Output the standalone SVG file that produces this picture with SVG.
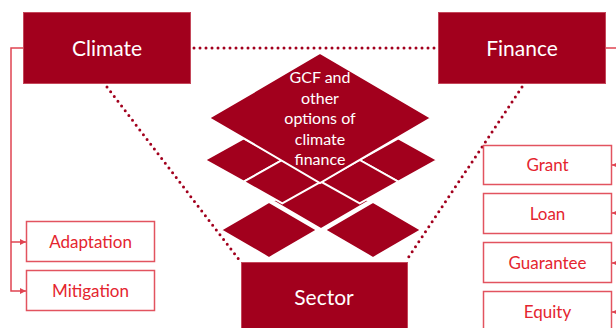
<svg xmlns="http://www.w3.org/2000/svg" width="616" height="328" viewBox="0 0 616 328">
  <defs>
    <style>
      .dark { fill: #a2001d; stroke: #c4475a; stroke-width: 1; }
      .tile { fill: #a2001d; stroke: #ffffff; stroke-width: 2; stroke-linejoin: miter; }
      .light { fill: #ffffff; stroke: #e2535f; stroke-width: 1.5; }
      .big { font-family: Lato, "Liberation Sans", sans-serif; font-size: 21px; fill: #ffffff; text-anchor: middle; }
      .mid { font-family: Lato, "Liberation Sans", sans-serif; font-size: 16px; fill: #ffffff; text-anchor: middle; }
      .small { font-family: Lato, "Liberation Sans", sans-serif; font-size: 17px; fill: #e4252f; text-anchor: middle; }
      .dots { fill: none; stroke: #a2001d; stroke-width: 3; stroke-linecap: round; stroke-dasharray: 0 6; }
      .link { fill: none; stroke: #e04452; stroke-width: 1.5; }
    </style>
    <marker id="arrow" viewBox="0 0 6 6" refX="6" refY="3" markerWidth="6" markerHeight="6" markerUnits="userSpaceOnUse" orient="auto">
      <path d="M0,0 L6,3 L0,6 Z" fill="#e04452"/>
    </marker>
  </defs>

  <!-- connectors -->
  <g id="connectors">
    <line class="dots" x1="194" y1="48" x2="436" y2="48"/>
    <line class="dots" x1="107" y1="87" x2="240" y2="261"/>
    <line class="dots" x1="522" y1="87" x2="406" y2="261"/>
    <!-- climate to its two branches -->
    <polyline class="link" points="23,48 11,48 11,291 26,291" marker-end="url(#arrow)"/>
    <polyline class="link" points="11,242 26,242" marker-end="url(#arrow)"/>
    <!-- finance to the instruments -->
    <polyline class="link" points="605,48 622,48 622,312"/>
    <polyline class="link" points="622,165 612,165" marker-end="url(#arrow)"/>
    <polyline class="link" points="622,213 612,213" marker-end="url(#arrow)"/>
    <polyline class="link" points="622,263 612,263" marker-end="url(#arrow)"/>
    <polyline class="link" points="622,312 612,312" marker-end="url(#arrow)"/>
  </g>

  <!-- stacked diamond layers -->
  <g id="layers">
    <!-- bottom layer -->
    <polygon class="tile" points="321,173 369,201 321,229 273,201"/>
    <polygon class="tile" points="269,202 317,230 269,258 221,230"/>
    <polygon class="tile" points="373,202 421,230 373,258 325,230"/>
    <!-- middle layer tiles -->
    <polygon class="tile" points="359.7,116.7 398.3,138.3 359.7,160 321,138.3"/>
    <polygon class="tile" points="282.3,116.7 321,138.3 282.3,160 243.7,138.3"/>
    <polygon class="tile" points="398.3,138.3 437,160 398.3,181.7 359.7,160"/>
    <polygon class="tile" points="243.7,138.3 282.3,160 243.7,181.7 205,160"/>
    <polygon class="tile" points="359.7,160 398.3,181.7 359.7,203.3 321,181.7"/>
    <polygon class="tile" points="282.3,160 321,181.7 282.3,203.3 243.7,181.7"/>
  </g>

  <g id="gcf">
    <polygon class="tile" points="320,53 431,118 320,183 209,118"/>
    <text class="mid" x="320" y="83">GCF and</text>
    <text class="mid" x="320" y="103.5">other</text>
    <text class="mid" x="320" y="124">options of</text>
    <text class="mid" x="320" y="144.5">climate</text>
    <text class="mid" x="320" y="165">finance</text>
  </g>

  <g id="climate">
    <rect class="dark" x="23.5" y="12.5" width="167" height="71"/>
    <text class="big" x="107" y="56">Climate</text>
  </g>

  <g id="finance">
    <rect class="dark" x="438.5" y="12.5" width="167" height="71"/>
    <text class="big" x="522" y="56">Finance</text>
  </g>

  <g id="sector">
    <rect class="dark" x="241.5" y="262.5" width="166" height="80"/>
    <text class="big" x="324" y="305">Sector</text>
  </g>

  <g id="adaptation">
    <rect class="light" x="26.5" y="221.5" width="128" height="40"/>
    <text class="small" x="90.5" y="248">Adaptation</text>
  </g>

  <g id="mitigation">
    <rect class="light" x="26.5" y="270.5" width="128" height="40"/>
    <text class="small" x="90.5" y="297">Mitigation</text>
  </g>

  <g id="grant">
    <rect class="light" x="483.5" y="145.5" width="128" height="39"/>
    <text class="small" x="547.5" y="171">Grant</text>
  </g>

  <g id="loan">
    <rect class="light" x="483.5" y="193.5" width="128" height="40"/>
    <text class="small" x="547.5" y="220">Loan</text>
  </g>

  <g id="guarantee">
    <rect class="light" x="483.5" y="242.5" width="128" height="40"/>
    <text class="small" x="547.5" y="269">Guarantee</text>
  </g>

  <g id="equity">
    <rect class="light" x="483.5" y="291.5" width="128" height="41"/>
    <text class="small" x="547.5" y="318">Equity</text>
  </g>
</svg>
